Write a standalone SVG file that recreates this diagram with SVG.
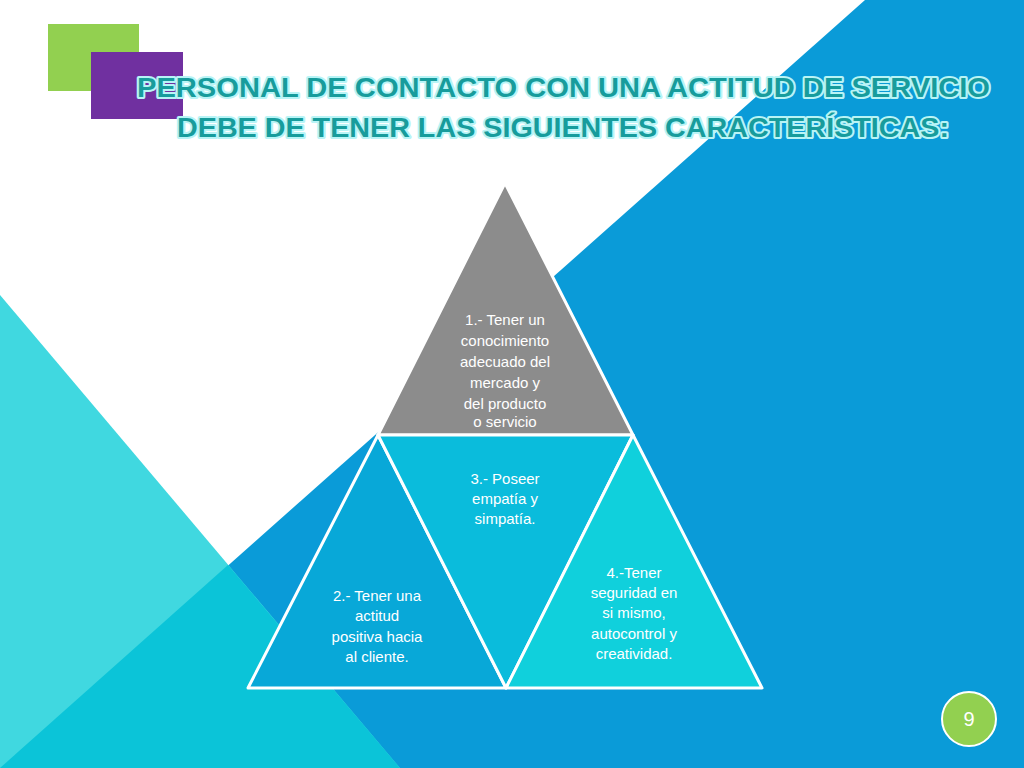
<svg xmlns="http://www.w3.org/2000/svg" width="1024" height="768" viewBox="0 0 1024 768">
<style>
.t{font-family:"Liberation Sans",Arial,sans-serif;font-size:15px;fill:#fff;text-anchor:middle}
.h{font-family:"Liberation Sans",Arial,sans-serif;font-weight:bold;font-size:27px;fill:#179c9c;stroke:#b8f4f6;stroke-width:4;paint-order:stroke;stroke-linejoin:round}
.tri{stroke:#fff;stroke-width:3;stroke-linejoin:round}
</style>
<rect width="1024" height="768" fill="#fff"/>
<polygon points="865,0 1024,0 1024,768 0,768" fill="#0a9bd8"/>
<polygon points="0,295 400,768 0,768" fill="#40d8e0"/>
<polygon points="0,768 228,565 400,768" fill="#0bc4d8"/>
<rect x="48" y="24" width="91" height="67" fill="#92d050"/>
<rect x="91" y="52" width="92" height="67" fill="#7030a0"/>
<g id="title">
<text class="h" x="137" y="97" textLength="853" lengthAdjust="spacingAndGlyphs">PERSONAL DE CONTACTO CON UNA ACTITUD DE SERVICIO</text>
<text class="h" x="177" y="137" textLength="772" lengthAdjust="spacingAndGlyphs">DEBE DE TENER LAS SIGUIENTES CARACTERÍSTICAS:</text>
</g>
<g id="n1"><polygon class="tri" points="505,183 633,435 378,435" fill="#8c8c8c"/>
<text class="t"><tspan x="505" y="325">1.- Tener un</tspan><tspan x="505" y="346">conocimiento</tspan><tspan x="505" y="367">adecuado del</tspan><tspan x="505" y="388">mercado y</tspan><tspan x="505" y="409">del producto</tspan><tspan x="505" y="427">o servicio</tspan></text></g>
<g id="n2"><polygon class="tri" points="378,435 506,688 248,688" fill="#08a8d8"/>
<text class="t"><tspan x="377" y="601">2.- Tener una</tspan><tspan x="377" y="621">actitud</tspan><tspan x="377" y="642">positiva hacia</tspan><tspan x="377" y="662">al cliente.</tspan></text></g>
<g id="n3"><polygon class="tri" points="378,435 633,435 506,688" fill="#0abcdc"/>
<text class="t"><tspan x="505" y="484">3.- Poseer</tspan><tspan x="505" y="504">empatía y</tspan><tspan x="505" y="524">simpatía.</tspan></text></g>
<g id="n4"><polygon class="tri" points="633,435 762,688 506,688" fill="#10d0dc"/>
<text class="t"><tspan x="634" y="578">4.-Tener</tspan><tspan x="634" y="598">seguridad en</tspan><tspan x="634" y="618">si mismo,</tspan><tspan x="634" y="639">autocontrol y</tspan><tspan x="634" y="659">creatividad.</tspan></text></g>
<g id="page"><circle cx="969" cy="719" r="27" fill="#92d050" stroke="#fff" stroke-width="2"/>
<text x="969" y="726" font-family="Liberation Sans,Arial,sans-serif" font-size="20" fill="#fff" text-anchor="middle">9</text></g>
</svg>
